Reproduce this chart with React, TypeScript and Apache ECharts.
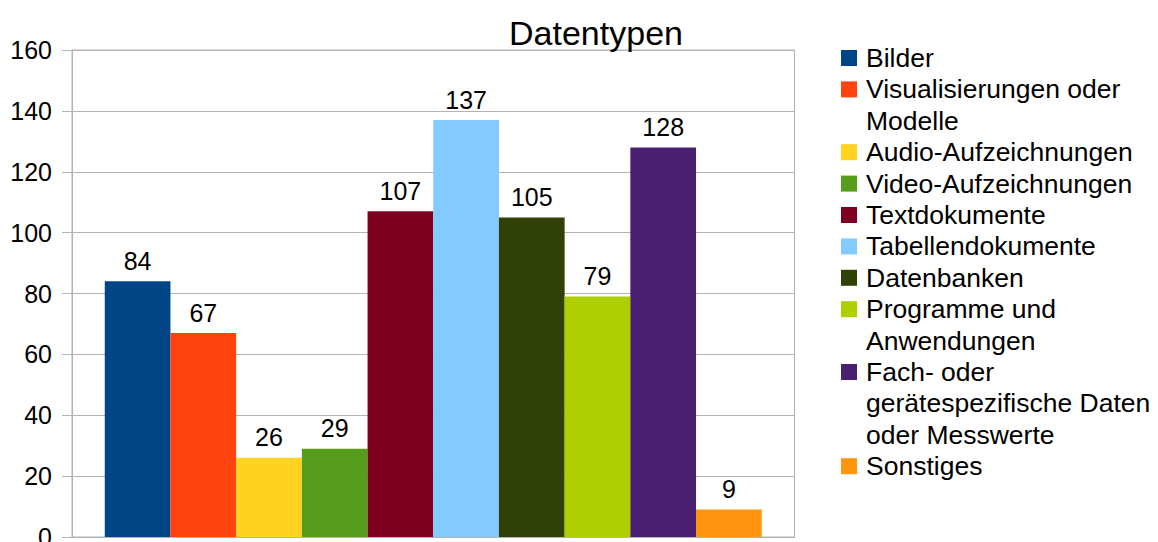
import React, { useEffect, useRef } from "react";
import * as echarts from "echarts";

const categories: string[] = [""];
const seriesNames: string[] = [
  "Bilder",
  "Visualisierungen oder Modelle",
  "Audio-Aufzeichnungen",
  "Video-Aufzeichnungen",
  "Textdokumente",
  "Tabellendokumente",
  "Datenbanken",
  "Programme und Anwendungen",
  "Fach- oder gerätespezifische Daten oder Messwerte",
  "Sonstiges",
];
const legendLabels: string[] = [
  "Bilder",
  "Visualisierungen oder\nModelle",
  "Audio-Aufzeichnungen",
  "Video-Aufzeichnungen",
  "Textdokumente",
  "Tabellendokumente",
  "Datenbanken",
  "Programme und\nAnwendungen",
  "Fach- oder\ngerätespezifische Daten\noder Messwerte",
  "Sonstiges",
];
const values: number[] = [84, 67, 26, 29, 107, 137, 105, 79, 128, 9];
const colors: string[] = [
  "#004586",
  "#ff420e",
  "#ffd320",
  "#579d1c",
  "#7e0021",
  "#83caff",
  "#314004",
  "#aecf00",
  "#4b1f6f",
  "#ff950e",
];
const yTicks = { min: 0, max: 160, interval: 20 };

const FONT = "Liberation Sans";

export default function App() {
  const ref = useRef<HTMLDivElement>(null);

  useEffect(() => {
    document.body.style.margin = "0";
    if (!ref.current) return;
    const chart = echarts.init(ref.current, undefined, { renderer: "svg" });

    const lineH = 31.4;
    const firstCenter = 58;
    const legendGraphics: any[] = [];
    let lineIdx = 0;
    legendLabels.forEach((label, i) => {
      const c = firstCenter + lineH * lineIdx;
      legendGraphics.push({
        type: "rect",
        shape: { x: 841, y: c - 8, width: 16, height: 16 },
        style: { fill: colors[i] },
      });
      legendGraphics.push({
        type: "text",
        x: 866,
        y: c - lineH / 2,
        style: {
          text: label,
          fontSize: 26.5,
          fontFamily: FONT,
          fill: "#000",
          lineHeight: lineH,
          verticalAlign: "top",
          align: "left",
        },
      });
      lineIdx += label.split("\n").length;
    });

    chart.setOption({
      animation: false,
      backgroundColor: "#fff",
      title: {
        text: "Datentypen",
        left: 591,
        top: 11,
        textAlign: "center",
        textStyle: { fontFamily: FONT, fontSize: 34, fontWeight: "normal", color: "#000" },
      },
      grid: {
        left: 72,
        right: 363.5,
        top: 50,
        bottom: 5,
        show: true,
        borderColor: "#b3b3b3",
        borderWidth: 1,
        containLabel: false,
        outerBoundsMode: "none",
      },
      xAxis: {
        type: "category",
        data: categories,
        axisLabel: { show: false },
        axisTick: { show: false },
        axisLine: { show: true, lineStyle: { color: "#b3b3b3" } },
      },
      yAxis: {
        type: "value",
        min: yTicks.min,
        max: yTicks.max,
        interval: yTicks.interval,
        axisLine: { show: true, lineStyle: { color: "#b3b3b3" } },
        axisTick: { show: true, length: 10, lineStyle: { color: "#b3b3b3" } },
        splitLine: { show: true, lineStyle: { color: "#b3b3b3" } },
        axisLabel: { color: "#000", fontFamily: FONT, fontSize: 25, margin: 20 },
      },
      graphic: legendGraphics,
      series: seriesNames.map((name, i) => ({
        type: "bar",
        name,
        data: [values[i]],
        barGap: "0%",
        barCategoryGap: "9.07%",
        itemStyle: { color: colors[i] },
        label: {
          show: true,
          position: "top",
          distance: 8,
          color: "#000",
          fontFamily: FONT,
          fontSize: 25,
        },
      })),
    });

    return () => chart.dispose();
  }, []);

  return (
    <div
      ref={ref}
      style={{ position: "absolute", left: 0, top: 0, width: 1158, height: 542 }}
    />
  );
}
